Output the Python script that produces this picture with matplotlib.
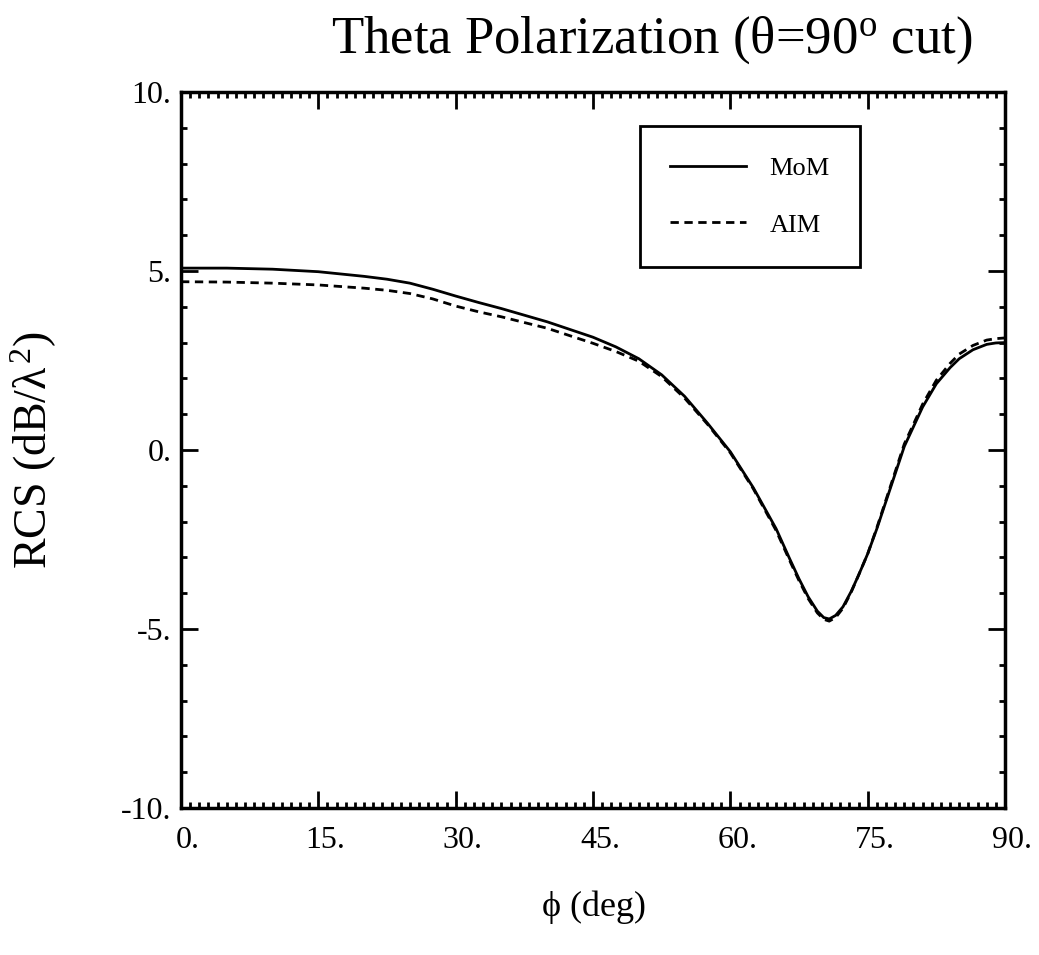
import numpy as np
import matplotlib
matplotlib.use('Agg')
from matplotlib import pyplot as plt
from matplotlib.ticker import MultipleLocator, FuncFormatter
import matplotlib.transforms as mtransforms

plt.rcParams['font.family'] = ['Liberation Serif', 'DejaVu Serif']
plt.rcParams['mathtext.fontset'] = 'custom'
plt.rcParams['mathtext.rm'] = 'Liberation Serif'
plt.rcParams['mathtext.it'] = 'Liberation Serif'

# phi angle (deg) and RCS values (dB/lambda^2)
phi = [0, 5, 10, 15, 20, 22.5, 25, 27.5, 30, 32.5, 35, 40, 45, 47.5, 50, 52.5,
       55, 57.5, 60, 62.5, 65, 66.5, 67.5, 68.5, 69.5, 70.2, 70.8, 71.5, 72.3,
       73.2, 74, 75, 76, 77.5, 79, 80, 81, 82.5, 84, 85, 86.5, 88, 89, 90]
rcs_mom = [5.08, 5.08, 5.05, 4.98, 4.85, 4.77, 4.66, 4.49, 4.30, 4.12, 3.95, 3.58,
           3.15, 2.88, 2.55, 2.10, 1.50, 0.75, -0.05, -1.05, -2.20, -3.05, -3.60,
           -4.10, -4.50, -4.68, -4.72, -4.62, -4.38, -3.95, -3.50, -2.90, -2.20,
           -1.05, 0.10, 0.65, 1.20, 1.85, 2.30, 2.55, 2.80, 2.95, 2.99, 3.00]
rcs_aim = [4.70, 4.69, 4.66, 4.61, 4.52, 4.46, 4.37, 4.22, 4.02, 3.86, 3.72, 3.40,
           2.98, 2.75, 2.48, 2.05, 1.45, 0.72, -0.08, -1.08, -2.25, -3.10, -3.65,
           -4.15, -4.55, -4.73, -4.78, -4.68, -4.42, -3.97, -3.50, -2.90, -2.17,
           -1.00, 0.17, 0.72, 1.28, 1.95, 2.42, 2.68, 2.92, 3.07, 3.11, 3.13]

fig = plt.figure(figsize=(10.39, 9.55), dpi=100)
ax = fig.add_axes([0.1742, 0.1539, 0.7931, 0.7498])

ax.plot(phi, rcs_mom, color='black', lw=2.0, label='MoM')
ax.plot(phi, rcs_aim, color='black', lw=2.0, dashes=(3, 2), label='AIM')

ax.set_xlim(0, 90)
ax.set_ylim(-10, 10)
ax.xaxis.set_major_locator(MultipleLocator(15))
ax.xaxis.set_minor_locator(MultipleLocator(1))
ax.yaxis.set_major_locator(MultipleLocator(5))
ax.yaxis.set_minor_locator(MultipleLocator(1))
fmt = FuncFormatter(lambda v, p: '%d.' % round(v))
ax.xaxis.set_major_formatter(fmt)
ax.yaxis.set_major_formatter(fmt)
ax.tick_params(which='both', direction='in', top=True, right=True, width=2, labelsize=23)
ax.tick_params(which='major', length=12)
ax.tick_params(which='minor', length=4)
ax.tick_params(axis='x', pad=13)
ax.tick_params(axis='y', pad=7)
for sp in ax.spines.values():
    sp.set_linewidth(2.5)

# shift x labels so the digits (not the period) sit under the tick
offset = mtransforms.ScaledTranslation(5 / 72, 0, fig.dpi_scale_trans)
for lab in ax.get_xticklabels():
    lab.set_transform(lab.get_transform() + offset)

ax.set_xlabel(r'$\phi$ (deg)', fontsize=26)
ax.xaxis.set_label_coords(0.5, -0.112)
ax.set_ylabel(r'RCS (dB/$\lambda^2$)', fontsize=33)
ax.yaxis.set_label_coords(-0.148, 0.5)
fig.text(0.627, 0.958, r'Theta Polarization ($\theta$=90$^{\rm o}$ cut)',
         fontsize=38, ha='center', va='center')

leg = ax.legend(loc='upper left', bbox_to_anchor=(0.557, 0.9525), fontsize=19,
                frameon=True, fancybox=False, edgecolor='black', framealpha=1,
                handlelength=2.85, handletextpad=0.9, labelspacing=1.26,
                borderpad=1.15, borderaxespad=0)
leg.get_frame().set_linewidth(2)

plt.savefig('out.png', dpi=100)
